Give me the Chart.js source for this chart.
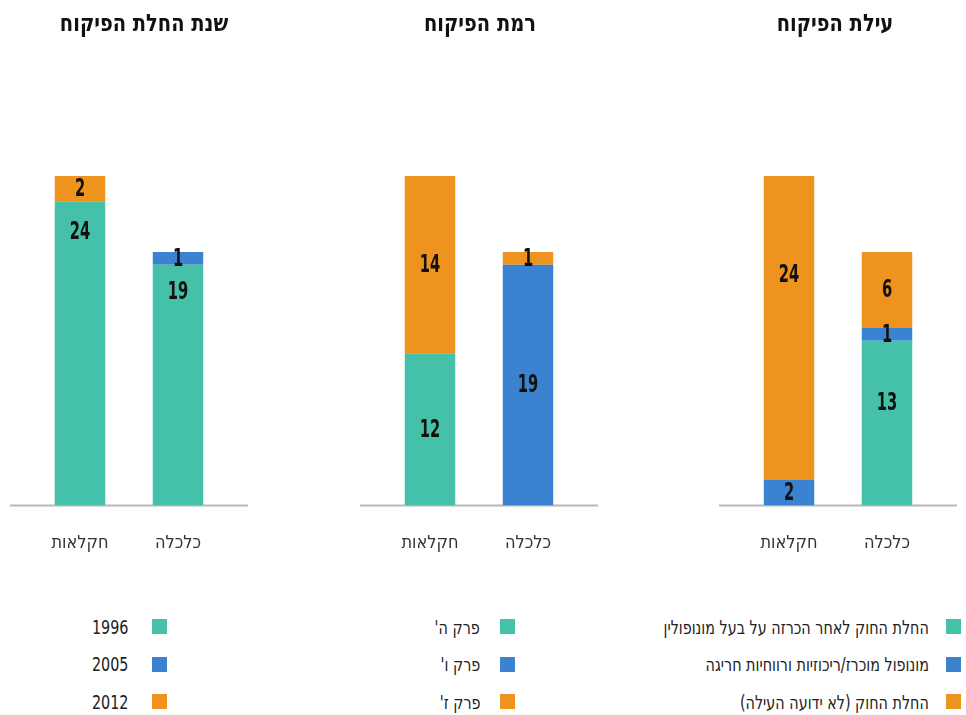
<!DOCTYPE html>
<html><head><meta charset="utf-8">
<script src="https://cdn.jsdelivr.net/npm/chart.js@4/dist/chart.umd.min.js"></script>
<style>
html,body{margin:0;padding:0;background:#fff;overflow:hidden;width:966px;height:715px;}
.pan{position:absolute;top:0;}
.ttl{position:absolute;top:8px;width:300px;margin-left:-150px;text-align:center;direction:rtl;font-family:'DejaVu Sans Condensed','DejaVu Sans',sans-serif;font-weight:bold;font-size:24px;line-height:30px;color:#111;transform:scaleX(0.9);}
.leg{position:absolute;direction:rtl;font-family:'DejaVu Sans Condensed','DejaVu Sans',sans-serif;font-size:19px;color:#222;}
.leg div{display:flex;align-items:center;height:37.5px;white-space:nowrap;}
.leg span.b{width:15px;height:15px;display:inline-block;flex:none;}
.leg span.t{display:inline-block;transform:scaleX(0.84);transform-origin:100% 50%;}
</style></head><body>
<div class="pan" style="left:0px"><canvas id="c1" width="288" height="581"></canvas></div>
<div class="pan" style="left:360px"><canvas id="c2" width="240" height="581"></canvas></div>
<div class="pan" style="left:704px"><canvas id="c3" width="262" height="581"></canvas></div>
<div class="ttl" id="t1" style="left:144px"></div>
<div class="ttl" id="t2" style="left:480px"></div>
<div class="ttl" id="t3" style="left:835px"></div>
<div class="leg" id="l1" style="right:799px;top:608px" data-gap="24"></div>
<div class="leg" id="l2" style="right:451px;top:608px" data-gap="20"></div>
<div class="leg" id="l3" style="right:5px;top:608px" data-gap="17"></div>
<script>
// ---- data ----
const categories = ['חקלאות', 'כלכלה'];

const titles = ['שנת החלת הפיקוח', 'רמת הפיקוח', 'עילת הפיקוח'];

// panel 1: year of regulation
const yearLabels = ['1996', '2005', '2012'];
const year1996 = [24, 19];
const year2005 = [0, 1];
const year2012 = [2, 0];

// panel 2: level of regulation
const levelLabels = ["פרק ה'", "פרק ו'", "פרק ז'"];
const chapterH = [12, 0];
const chapterV = [0, 19];
const chapterZ = [14, 1];

// panel 3: cause of regulation
const causeLabels = ['החלת החוק לאחר הכרזה על בעל מונופולין', 'מונופול מוכרז/ריכוזיות ורווחיות חריגה', 'החלת החוק (לא ידועה העילה)'];
const causeDeclared = [0, 13];
const causeMonopoly = [2, 1];
const causeUnknown = [24, 6];

const yMax = 26;

// ---- style ----
const GREEN = '#45C1A9', BLUE = '#3B83D0', ORANGE = '#EE931E';
const FONT = "'DejaVu Sans Condensed','DejaVu Sans',sans-serif";
Chart.defaults.font.family = FONT;

const valueLabels = {
  id: 'valueLabels',
  afterDatasetsDraw(chart) {
    const ctx = chart.ctx;
    chart.data.datasets.forEach((ds, di) => {
      const meta = chart.getDatasetMeta(di);
      meta.data.forEach((el, i) => {
        const v = ds.data[i];
        if (!v) return;
        const f = ds.labelAt ? ds.labelAt[i] : 0.5;
        const top = Math.min(el.y, el.base), bot = Math.max(el.y, el.base);
        ctx.save();
        ctx.translate(el.x, top + (bot - top) * f);
        ctx.scale(0.68, 1);
        ctx.font = "bold 24px " + FONT;
        ctx.fillStyle = '#111';
        ctx.textAlign = 'center';
        ctx.textBaseline = 'middle';
        ctx.fillText(String(v), 0, 1);
        ctx.restore();
      });
    });
  }
};

const baseline = {
  id: 'baseline',
  beforeDatasetsDraw(chart) {
    const ctx = chart.ctx, a = chart.chartArea;
    const y = chart.scales.y.getPixelForValue(0);
    ctx.save();
    ctx.strokeStyle = '#b8b8b8';
    ctx.lineWidth = 2;
    ctx.beginPath();
    ctx.moveTo(a.left - 21, y);
    ctx.lineTo(a.right + 21, y);
    ctx.stroke();
    ctx.restore();
  }
};

function makeChart(id, datasets, padL, padR) {
  return new Chart(document.getElementById(id), {
    type: 'bar',
    data: { labels: categories, datasets: datasets },
    options: {
      responsive: false,
      animation: false,
      layout: { padding: { left: padL, right: padR, top: 176, bottom: 0 } },
      datasets: { bar: { categoryPercentage: 0.515, barPercentage: 1, borderWidth: 0 } },
      plugins: {
        legend: { display: false },
        tooltip: { enabled: false },
        title: { display: false }
      },
      scales: {
        x: {
          stacked: true,
          grid: { display: false, drawTicks: false },
          border: { display: false },
          ticks: { color: '#333', font: { size: 18 }, padding: 27, maxRotation: 0, minRotation: 0, autoSkip: false }
        },
        y: { stacked: true, display: false, min: 0, max: yMax }
      }
    },
    plugins: [baseline, valueLabels]
  });
}

const c1 = makeChart('c1', [
  { label: yearLabels[0], data: year1996, backgroundColor: GREEN, labelAt: [0.1, 0.113] },
  { label: yearLabels[1], data: year2005, backgroundColor: BLUE },
  { label: yearLabels[2], data: year2012, backgroundColor: ORANGE }
], 31, 61);

const c2 = makeChart('c2', [
  { label: levelLabels[0], data: chapterH, backgroundColor: GREEN },
  { label: levelLabels[1], data: chapterV, backgroundColor: BLUE },
  { label: levelLabels[2], data: chapterZ, backgroundColor: ORANGE }
], 21, 23);

const c3 = makeChart('c3', [
  { label: causeLabels[0], data: causeDeclared, backgroundColor: GREEN, labelAt: [0.5, 0.377] },
  { label: causeLabels[1], data: causeMonopoly, backgroundColor: BLUE },
  { label: causeLabels[2], data: causeUnknown, backgroundColor: ORANGE, labelAt: [0.324, 0.5] }
], 36, 30);

['t1', 't2', 't3'].forEach((id, i) => { document.getElementById(id).textContent = titles[i]; });

function buildLegend(chart, elId) {
  const box = document.getElementById(elId);
  const gap = box.dataset.gap + 'px';
  chart.data.datasets.forEach(ds => {
    const row = document.createElement('div');
    const b = document.createElement('span');
    b.className = 'b';
    b.style.background = ds.backgroundColor;
    b.style.marginLeft = gap;
    const t = document.createElement('span');
    t.className = 't';
    t.textContent = ds.label;
    row.appendChild(b); row.appendChild(t);
    box.appendChild(row);
  });
}
buildLegend(c1, 'l1');
buildLegend(c2, 'l2');
buildLegend(c3, 'l3');
</script>
</body></html>
